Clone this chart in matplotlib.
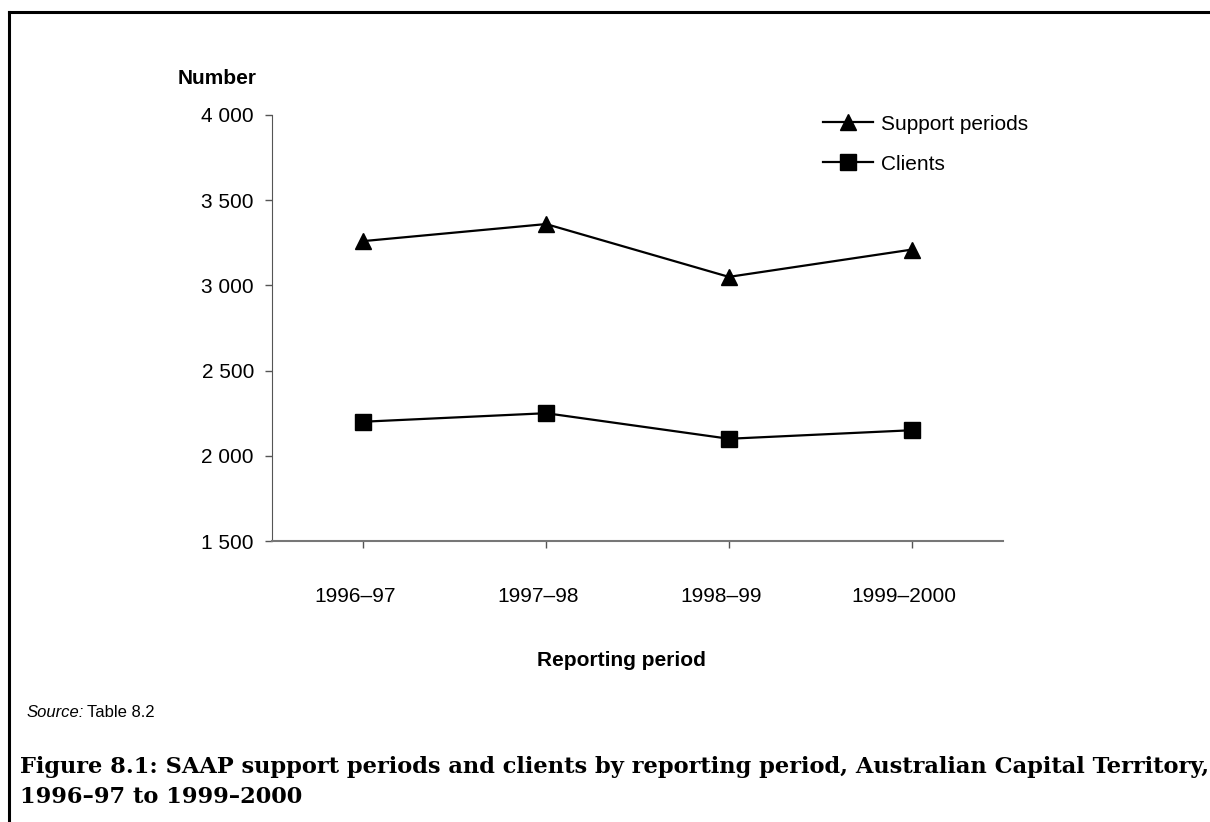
import matplotlib.pyplot as plt
import matplotlib.transforms as mtransforms
from matplotlib.lines import Line2D

periods = ['1996–97', '1997–98', '1998–99', '1999–2000']
support_periods = [3260, 3360, 3050, 3210]
clients = [2200, 2250, 2100, 2150]
y_ticks = [1500, 2000, 2500, 3000, 3500, 4000]

plt.rcParams['font.family'] = ['Liberation Sans', 'DejaVu Sans']

fig = plt.figure(figsize=(12.1, 8.22), dpi=100)
ax = fig.add_axes([272 / 1210, 1 - 541 / 822, (1003 - 272) / 1210, (541 - 115) / 822])

x = list(range(len(periods)))
ax.plot(x, support_periods, color='black', lw=1.6, marker='^', ms=12, clip_on=False)
ax.plot(x, clients, color='black', lw=1.6, marker='s', ms=11, clip_on=False)

ax.set_xlim(-0.5, 3.5)
ax.set_ylim(1500, 4000)
ax.set_yticks(y_ticks)
ax.set_yticklabels([f'{v:,}'.replace(',', ' ') for v in y_ticks], fontsize=15)
ax.set_xticks(x)
ax.set_xticklabels(periods, fontsize=15)
ax.tick_params(axis='y', length=5, width=1, color='#555555', pad=8)
ax.tick_params(axis='x', length=5, width=1, color='#555555', pad=28)
# labels sit a little left of the tick marks in the original
shift = mtransforms.ScaledTranslation(-8 / 100, 0, fig.dpi_scale_trans)
for lab in ax.get_xticklabels():
    lab.set_transform(lab.get_transform() + shift)
for s in ['top', 'right']:
    ax.spines[s].set_visible(False)
ax.spines['left'].set_color('#555555')
ax.spines['bottom'].set_color('#777777')
ax.spines['bottom'].set_linewidth(1.5)

fig.text(178 / 1210, 1 - 79 / 822, 'Number', fontsize=15, fontweight='bold', ha='left', va='center')
fig.text(621 / 1210, 1 - 660 / 822, 'Reporting period', fontsize=15, fontweight='bold', ha='center', va='center')

handles = [Line2D([], [], color='black', lw=1.6, marker='^', ms=12),
           Line2D([], [], color='black', lw=1.6, marker='s', ms=11)]
fig.legend(handles, ['Support periods', 'Clients'], loc='upper left',
           bbox_to_anchor=(804 / 1210, 1 - 96 / 822), frameon=False, fontsize=15,
           handlelength=2.4, handletextpad=0.4, labelspacing=1.0)

fig.text(27 / 1210, 1 - 712 / 822, 'Source:', fontsize=12, style='italic', ha='left', va='center')
fig.text(87 / 1210, 1 - 712 / 822, 'Table 8.2', fontsize=12, ha='left', va='center')
fig.text(20 / 1210, 1 - 756 / 822,
         'Figure 8.1: SAAP support periods and clients by reporting period, Australian Capital Territory,\n1996–97 to 1999–2000',
         fontsize=16.2, fontweight='bold', family=['DejaVu Serif'],
         ha='left', va='top', linespacing=1.45)

# border box, open to the right and bottom
fig.add_artist(Line2D([9 / 1210, 9 / 1210], [0, 1 - 12 / 822], color='black', lw=2.2))
fig.add_artist(Line2D([9 / 1210, 1], [1 - 12 / 822, 1 - 12 / 822], color='black', lw=2.2))

fig.savefig('out.png', dpi=100)
